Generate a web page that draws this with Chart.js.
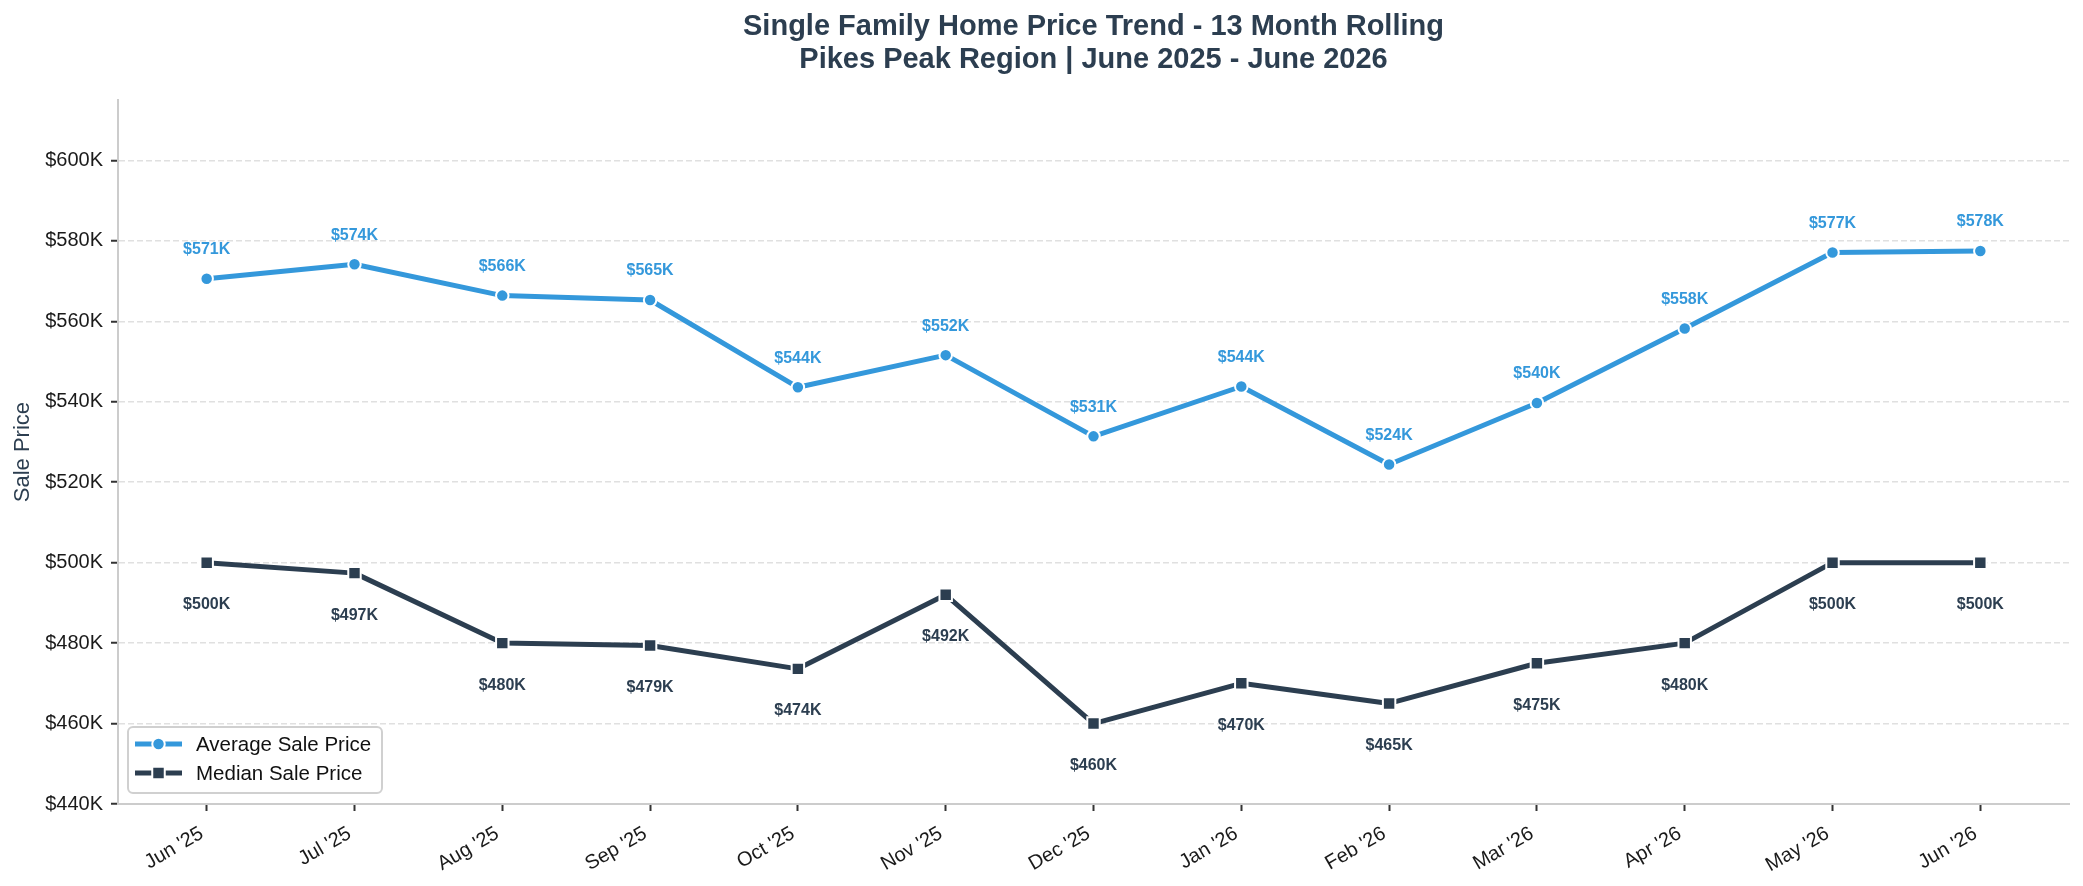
<!DOCTYPE html>
<html>
<head>
<meta charset="utf-8">
<title>Single Family Home Price Trend</title>
<script src="https://cdn.jsdelivr.net/npm/chart.js@4.4.1/dist/chart.umd.min.js"></script>
<style>
    html, body { margin: 0; padding: 0; background: #ffffff; }
</style>
</head>
<body>
<canvas id="myChart" width="2083" height="886"></canvas>
<script>
// values
const months = ["Jun '25", "Jul '25", "Aug '25", "Sep '25", "Oct '25", "Nov '25", "Dec '25",
                "Jan '26", "Feb '26", "Mar '26", "Apr '26", "May '26", "Jun '26"];
const avgPrice = [570600, 574200, 566400, 565300, 543600, 551600, 531400,
                  543800, 524400, 539700, 558200, 577100, 577500];
const medianPrice = [500000, 497400, 480000, 479400, 473600, 492000, 460000,
                     470000, 465000, 475000, 480000, 500000, 500000];
const yTickValues = [440000, 460000, 480000, 500000, 520000, 540000, 560000, 580000, 600000];

const FONT = "'Liberation Sans', Arial, Helvetica, sans-serif";
const BLUE = '#3498db';
const NAVY = '#2c3e50';

let myChart;

function fmtK(v) {
    return '$' + Math.round(v / 1000) + 'K';
}

// value labels above / below each point
const pointLabels = {
    id: 'pointLabels',
    afterDatasetsDraw(chart) {
        const ctx = chart.ctx;
        ctx.save();
        ctx.font = 'bold 16px ' + FONT;
        ctx.textAlign = 'center';
        ctx.textBaseline = 'middle';
        chart.data.datasets.forEach((ds, i) => {
            const meta = chart.getDatasetMeta(i);
            ctx.fillStyle = ds.borderColor;
            meta.data.forEach((pt, j) => {
                ctx.fillText(fmtK(ds.data[j].y), pt.x, pt.y + ds.labelOffset);
            });
        });
        ctx.restore();
    }
};

function drawMarker(ctx, style, color, x, y) {
    ctx.fillStyle = color;
    ctx.strokeStyle = '#ffffff';
    ctx.lineWidth = 2;
    ctx.beginPath();
    if (style === 'rect') {
        ctx.rect(x - 6.25, y - 6.25, 12.5, 12.5);
    } else {
        ctx.arc(x, y, 6.25, 0, Math.PI * 2);
    }
    ctx.fill();
    ctx.stroke();
}

// matplotlib-like legend box in the lower left of the plot
const legendBox = {
    id: 'legendBox',
    afterDraw(chart) {
        const ctx = chart.ctx;
        const area = chart.chartArea;
        const x = area.left + 10, y = area.bottom - 77, w = 254, h = 66, r = 5;
        ctx.save();
        ctx.beginPath();
        ctx.moveTo(x + r, y);
        ctx.lineTo(x + w - r, y);
        ctx.arcTo(x + w, y, x + w, y + r, r);
        ctx.lineTo(x + w, y + h - r);
        ctx.arcTo(x + w, y + h, x + w - r, y + h, r);
        ctx.lineTo(x + r, y + h);
        ctx.arcTo(x, y + h, x, y + h - r, r);
        ctx.lineTo(x, y + r);
        ctx.arcTo(x, y, x + r, y, r);
        ctx.closePath();
        ctx.fillStyle = 'rgba(255,255,255,0.8)';
        ctx.fill();
        ctx.strokeStyle = '#d0d0d0';
        ctx.lineWidth = 2;
        ctx.stroke();

        chart.data.datasets.forEach((ds, i) => {
            const ry = y + 17 + i * 29;
            ctx.strokeStyle = ds.borderColor;
            ctx.lineWidth = 5;
            ctx.beginPath();
            ctx.moveTo(x + 7, ry);
            ctx.lineTo(x + 54, ry);
            ctx.stroke();
            drawMarker(ctx, ds.pointStyle, ds.borderColor, x + 30.5, ry);
            ctx.fillStyle = '#111111';
            ctx.font = '20.5px ' + FONT;
            ctx.textAlign = 'left';
            ctx.textBaseline = 'middle';
            ctx.fillText(ds.label, x + 68, ry + 1);
        });
        ctx.restore();
    }
};

function ChartPrecios() {
    const ctx = InitChart();
    Chart.defaults.font.family = FONT;
    myChart = new Chart(ctx, {
        type: 'line',
        data: {
            datasets: [{
                label: 'Average Sale Price',
                data: avgPrice.map((v, i) => ({ x: i, y: v })),
                borderColor: BLUE,
                backgroundColor: BLUE,
                borderWidth: 5,
                borderJoinStyle: 'round',
                pointStyle: 'circle',
                pointRadius: 6.25,
                pointBorderWidth: 2,
                pointBorderColor: '#ffffff',
                pointBackgroundColor: BLUE,
                labelOffset: -29
            }, {
                label: 'Median Sale Price',
                data: medianPrice.map((v, i) => ({ x: i, y: v })),
                borderColor: NAVY,
                backgroundColor: NAVY,
                borderWidth: 5,
                borderJoinStyle: 'round',
                pointStyle: 'rect',
                pointRadius: 8.8,
                pointBorderWidth: 2,
                pointBorderColor: '#ffffff',
                pointBackgroundColor: NAVY,
                labelOffset: 42
            }]
        },
        options: {
            responsive: false,
            devicePixelRatio: 1,
            animation: false,
            events: [],
            layout: {
                padding: { left: 0, right: 14, top: 0, bottom: 0 }
            },
            plugins: {
                legend: { display: false },
                tooltip: { enabled: false },
                title: {
                    display: true,
                    fullSize: false,
                    text: ['Single Family Home Price Trend - 13 Month Rolling',
                           'Pikes Peak Region | June 2025 - June 2026'],
                    color: NAVY,
                    font: { size: 29, weight: 'bold', lineHeight: 1.14 },
                    padding: { top: 10, bottom: 24 }
                }
            },
            scales: {
                x: {
                    type: 'linear',
                    min: -0.6,
                    max: 12.6,
                    afterBuildTicks: s => { s.ticks = months.map((m, i) => ({ value: i })); },
                    afterFit: s => { s.height = 82; },
                    grid: {
                        drawOnChartArea: false,
                        tickLength: 7,
                        tickWidth: 2,
                        tickColor: '#333333'
                    },
                    border: { color: '#cccccc', width: 2 },
                    ticks: {
                        autoSkip: false,
                        maxRotation: 30,
                        minRotation: 30,
                        padding: 8,
                        color: '#1a1a1a',
                        font: { size: 20 },
                        // trailing space nudges the right-aligned label left of the tick
                        callback: v => months[v] + ' '
                    }
                },
                y: {
                    min: 440000,
                    max: 615000,
                    afterBuildTicks: s => { s.ticks = yTickValues.map(v => ({ value: v })); },
                    afterFit: s => { s.width = 118; },
                    grid: {
                        color: '#e0e0e0',
                        lineWidth: 1.5,
                        tickLength: 7,
                        tickWidth: 2,
                        tickColor: '#333333',
                        tickBorderDash: []
                    },
                    border: { color: '#cccccc', width: 2, dash: [6, 3] },
                    ticks: {
                        padding: 8,
                        color: '#1a1a1a',
                        font: { size: 20 },
                        callback: v => '$' + (v / 1000) + 'K'
                    },
                    title: {
                        display: true,
                        text: 'Sale Price',
                        color: NAVY,
                        font: { size: 22 },
                        padding: { top: 10, bottom: 0 }
                    }
                }
            }
        },
        plugins: [pointLabels, legendBox]
    });
}

function InitChart() {
    let ctx = document.getElementById('myChart');
    if (myChart) {
        myChart.destroy();
    }
    return ctx;
}

ChartPrecios();
</script>
</body>
</html>
